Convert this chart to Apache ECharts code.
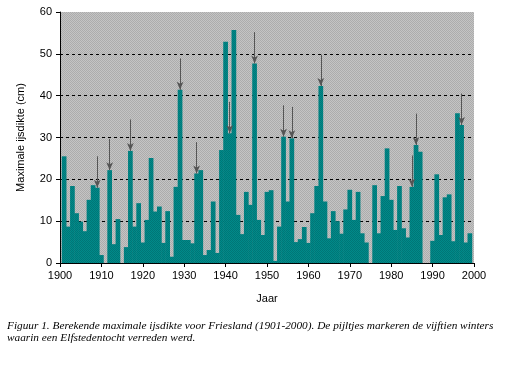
<!DOCTYPE html>
<html><head><meta charset="utf-8">
<script src="https://cdn.jsdelivr.net/npm/echarts@6/dist/echarts.min.js"></script>
<style>html,body{margin:0;padding:0;background:#fff}#c{width:512px;height:384px}</style>
</head><body><div id="c"></div>
<script>
// Years 1901..1999 (no visible bar at 2000)
const years = [];
for (let y = 1901; y <= 1999; y++) years.push(y);
const thickness = [
 25.5, 8.7, 18.4, 11.9, 9.9, 7.6, 15.1, 18.6, 18.0, 1.9,      // 1901-1910
 0, 22.2, 4.5, 10.5, 0, 3.8, 26.8, 8.7, 14.3, 4.9,            // 1911-1920
 10.3, 25.1, 12.3, 13.5, 4.8, 12.4, 1.5, 18.2, 41.4, 5.5,     // 1921-1930
 5.5, 4.7, 21.4, 22.2, 1.9, 3.1, 14.7, 2.4, 27.0, 52.9,       // 1931-1940
 31.0, 55.7, 11.5, 6.9, 17.0, 13.9, 47.7, 10.3, 6.7, 17.0,    // 1941-1950
 17.4, 0.5, 8.7, 30.2, 14.7, 29.8, 5.0, 5.7, 8.6, 4.8,        // 1951-1960
 11.9, 18.4, 42.3, 14.7, 5.9, 12.4, 10.0, 7.0, 12.8, 17.5,    // 1961-1970
 10.3, 17.0, 7.1, 4.9, 0, 18.6, 7.1, 16.0, 27.4, 15.1,        // 1971-1980
 7.9, 18.4, 8.3, 6.1, 18.2, 28.2, 26.6, 0, 0, 5.3,            // 1981-1990
 21.2, 6.7, 15.7, 16.4, 5.2, 35.8, 33.0, 4.9, 7.1             // 1991-1999
];
const elfstedenYears = [1909,1912,1917,1929,1933,1940,1941,1942,1947,1954,1956,1963,1985,1986,1997];
const xTicks = [1900, 2000, 10];
const yTicks = [0, 60, 10];
const captionLines = [
 'Figuur 1. Berekende maximale ijsdikte voor Friesland (1901-2000). De pijltjes markeren de vijftien winters',
 'waarin een Elfstedentocht verreden werd.'
];

function pattern(base, dot) {
  const c = document.createElement('canvas');
  c.width = 2; c.height = 2;
  const g = c.getContext('2d');
  g.fillStyle = base; g.fillRect(0, 0, 2, 2);
  g.fillStyle = dot; g.fillRect(0, 0, 1, 1); g.fillRect(1, 1, 1, 1);
  return { image: c, repeat: 'repeat' };
}

const barData = years.map((y, i) => [y, thickness[i]]);
const arrowLen = 7.5;
const arrows = elfstedenYears.map(y => {
  const v = thickness[years.indexOf(y)];
  return [{ coord: [y, v + arrowLen] }, { coord: [y, v] }];
});

const chart = echarts.init(document.getElementById('c'), null, { renderer: 'canvas' });
chart.setOption({
  animation: false,
  backgroundColor: '#fff',
  grid: {
    left: 60, right: 38, top: 12, bottom: 121, show: true,
    backgroundColor: pattern('#c4c4c4', '#acacac'), borderWidth: 0
  },
  xAxis: {
    type: 'value', min: xTicks[0], max: xTicks[1], interval: xTicks[2],
    name: 'Jaar', nameLocation: 'middle', nameGap: 30,
    nameTextStyle: { fontFamily: 'Liberation Sans', fontSize: 11, color: '#000' },
    axisLine: { show: true, lineStyle: { color: '#000', width: 1 } },
    axisTick: { show: true, length: 4, lineStyle: { color: '#000' } },
    axisLabel: { fontFamily: 'Liberation Sans', fontSize: 11, color: '#000', margin: 7,
      formatter: v => String(v) },
    splitLine: { show: false }
  },
  yAxis: {
    type: 'value', min: yTicks[0], max: yTicks[1], interval: yTicks[2],
    name: 'Maximale ijsdikte (cm)', nameLocation: 'middle', nameGap: 34,
    nameTextStyle: { fontFamily: 'Liberation Sans', fontSize: 11, color: '#000' },
    axisLine: { show: true, lineStyle: { color: '#000', width: 1 } },
    axisTick: { show: true, length: 4, lineStyle: { color: '#000' } },
    axisLabel: { fontFamily: 'Liberation Sans', fontSize: 11, color: '#000', margin: 8 },
    splitLine: { show: true, lineStyle: {
      color: ['transparent', '#000', '#000', '#000', '#000', '#000', 'transparent'],
      type: [3, 3], width: 1 } }
  },
  series: [{
    type: 'bar',
    data: barData,
    barWidth: 4.7,
    itemStyle: { color: pattern('#008a8a', '#007676') },
    markLine: {
      silent: true,
      symbol: ['none', 'arrow'],
      symbolSize: [5, 8],
      label: { show: false },
      lineStyle: { color: '#555555', width: 1, type: 'solid' },
      data: arrows
    }
  }],
  graphic: captionLines.map((t, i) => ({
    type: 'text', left: 7, top: 321 + i * 12,
    style: { text: t, font: 'italic 11.3px "Liberation Serif"', fill: '#000' }
  }))
});
</script></body></html>
